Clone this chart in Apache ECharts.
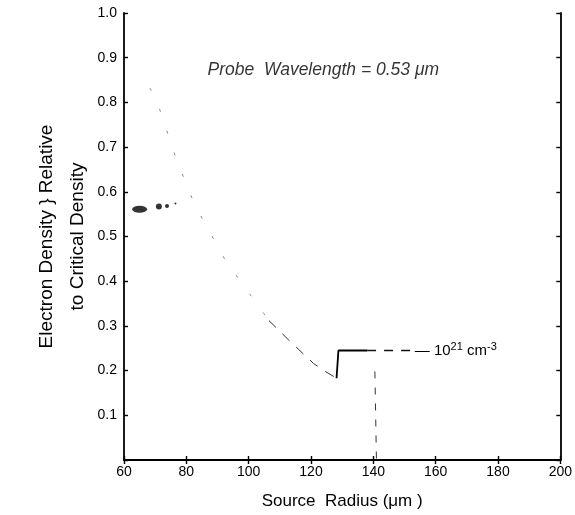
<!DOCTYPE html>
<html>
<head>
<meta charset="utf-8">
<script src="https://cdn.jsdelivr.net/npm/echarts@6/dist/echarts.min.js"></script>
<style>
  html, body { margin: 0; padding: 0; background: #fff; }
  #chart { width: 575px; height: 515px; }
</style>
</head>
<body>
<div id="chart"></div>
<script>
// axis ticks
const xTicks = [60, 80, 100, 120, 140, 160, 180, 200];
const yTicks = [0.1, 0.2, 0.3, 0.4, 0.5, 0.6, 0.7, 0.8, 0.9, 1.0];

// density profile (source radius in um, n/ncrit)
const profileX = [68.3, 70.4, 76.8, 82.6, 92.4, 106.5];
const profileY = [0.832, 0.806, 0.673, 0.572, 0.448, 0.312];
const lowerX = [106.5, 112.9, 120.8, 124.6, 128.2];
const lowerY = [0.312, 0.268, 0.216, 0.198, 0.183];

// step up to the 10^21 cm^-3 level
const stepX = [128.2, 128.8, 138];
const stepY = [0.183, 0.245, 0.245];
const levelX = [138, 152];
const levelY = [0.245, 0.245];

// vertical dashed line at the edge
const edgeX = [140.5, 141];
const edgeY = [0.198, 0];

// blobs near 0.56
const dotsX = [65, 71.2, 73.8, 76.5];
const dotsY = [0.561, 0.567, 0.568, 0.574];

const font = "Liberation Sans";

function pairs(xs, ys) {
  return xs.map((x, i) => [x, ys[i]]);
}

var chart = echarts.init(document.getElementById("chart"));
var axisLine = { show: true, lineStyle: { color: "#000", width: 1.8 } };
var tick = { inside: true, length: 4, lineStyle: { color: "#000", width: 1.4 } };

var option = {
  backgroundColor: "#fff",
  animation: false,
  grid: { left: 124, right: 13, top: 13, bottom: 53, containLabel: false },
  xAxis: [
    {
      type: "value",
      min: 60,
      max: 200,
      interval: 20,
      name: "Source  Radius (\u03bcm )",
      nameLocation: "middle",
      nameGap: 33,
      nameTextStyle: { fontFamily: font, fontSize: 17, color: "#000" },
      axisLine: axisLine,
      axisTick: tick,
      axisLabel: { fontFamily: font, fontSize: 14, color: "#000", margin: 5 },
      splitLine: { show: false },
    },
    {
      type: "value",
      position: "top",
      min: 60,
      max: 200,
      interval: 20,
      axisLine: axisLine,
      axisTick: tick,
      axisLabel: { show: false },
      splitLine: { show: false },
    },
  ],
  yAxis: [
    {
      type: "value",
      min: 0,
      max: 1,
      interval: 0.1,
      name: "Electron Density } Relative\nto Critical Density",
      nameLocation: "middle",
      nameRotate: 90,
      nameGap: 31,
      nameMoveOverlap: false,
      nameTextStyle: { fontFamily: font, fontSize: 19, color: "#000", lineHeight: 31 },
      axisLine: axisLine,
      axisTick: tick,
      axisLabel: {
        fontFamily: font,
        fontSize: 14,
        color: "#000",
        margin: 7,
        formatter: (v) => (yTicks.some((t) => Math.abs(t - v) < 1e-6) ? v.toFixed(1) : ""),
      },
      splitLine: { show: false },
    },
    {
      type: "value",
      position: "right",
      min: 0,
      max: 1,
      interval: 0.1,
      axisLine: axisLine,
      axisTick: tick,
      axisLabel: { show: false },
      splitLine: { show: false },
    },
  ],
  series: [
    {
      type: "line",
      data: pairs(profileX, profileY),
      symbol: "none",
      lineStyle: { color: "#888", width: 1, type: [3, 20] },
    },
    {
      type: "line",
      data: pairs(lowerX, lowerY),
      symbol: "none",
      lineStyle: { color: "#333", width: 1, type: [10, 9] },
    },
    {
      type: "line",
      data: pairs(stepX, stepY),
      symbol: "none",
      lineStyle: { color: "#000", width: 1.8 },
    },
    {
      type: "line",
      data: pairs(levelX, levelY),
      symbol: "none",
      lineStyle: { color: "#111", width: 1.5, type: [9, 8] },
      endLabel: {
        show: true,
        distance: 4,
        formatter: "{a|\u2014 10}{s|21}{a| cm}{s|-3}",
        rich: {
          a: { fontSize: 15, fontFamily: font, color: "#000" },
          s: { fontSize: 11, fontFamily: font, color: "#000", verticalAlign: "top", padding: [0, 0, 8, 0] },
        },
      },
    },
    {
      type: "line",
      data: pairs(edgeX, edgeY),
      symbol: "none",
      lineStyle: { color: "#333", width: 1, type: [7, 9] },
    },
    {
      type: "scatter",
      data: pairs(dotsX, dotsY),
      symbol: "circle",
      symbolSize: (v, p) => [[15, 7], [6, 6], [4, 4], [2, 2]][p.dataIndex],
      itemStyle: { color: "#000" },
    },
    {
      // text annotation placed in data coordinates
      type: "scatter",
      data: [[86.8, 0.873]],
      symbolSize: 0,
      label: {
        show: true,
        position: "right",
        distance: 0,
        fontFamily: font,
        fontStyle: "italic",
        fontSize: 17.5,
        color: "#000",
        formatter: "Probe  Wavelength = 0.53 \u03bcm",
      },
    },
  ],
};

chart.setOption(option);
</script>
</body>
</html>
